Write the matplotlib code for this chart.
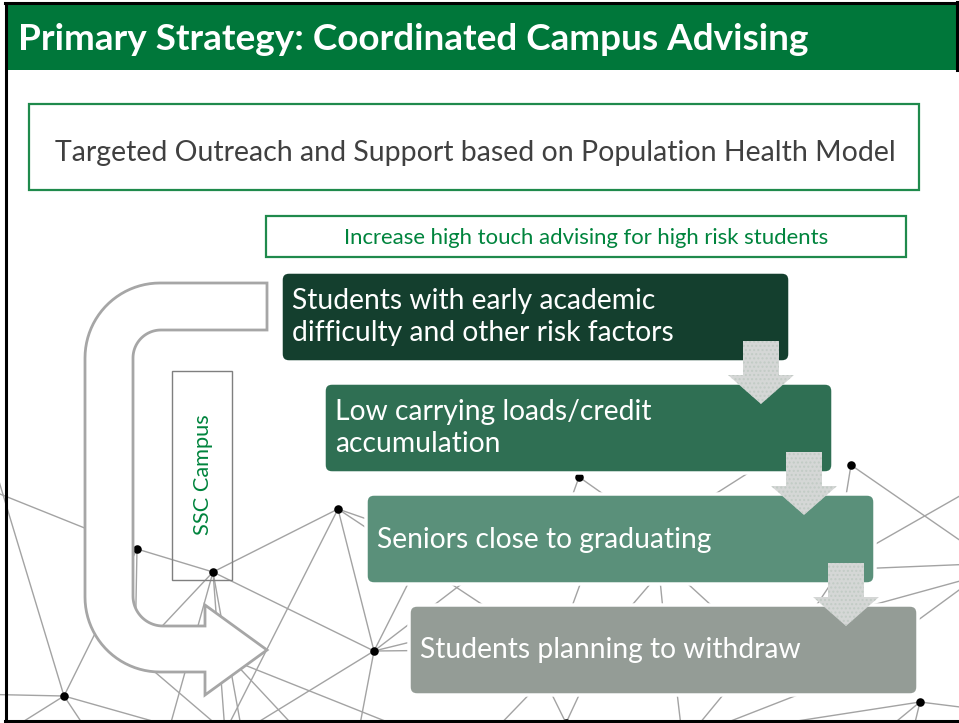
import numpy as np
import matplotlib
matplotlib.use("Agg")
import matplotlib.pyplot as plt
from matplotlib.patches import FancyBboxPatch, Rectangle, Polygon

W, H = 959, 723
FONT = ["Lato", "DejaVu Sans"]

# ---------------- text content ----------------
TITLE = "Primary Strategy: Coordinated Campus Advising"
SUBTITLE = "Targeted Outreach and Support based on Population Health Model"
BANNER = "Increase high touch advising for high risk students"
SIDE_LABEL = "SSC Campus"
STEP_LINES = [
    ["Students with early academic", "difficulty and other risk factors"],
    ["Low carrying loads/credit", "accumulation"],
    ["Seniors close to graduating"],
    ["Students planning to withdraw"],
]
STEP_COLORS = ["#143F2E", "#2F6F53", "#5A907A", "#949C96"]

# ---------------- layout (pixels) ----------------
STEP_X = [281, 324, 366, 409]
STEP_TOP = [272, 383, 494, 605]
STEP_W, STEP_H = 509, 90
STEP_BASELINES = [[309, 341], [420, 452], [548], [658]]

# ---------------- decorative network ----------------
NODES = {
    "a": (137, 549), "b": (213, 572), "c": (64, 696), "d": (338, 509),
    "e": (374, 651), "f": (579, 477), "g": (851, 465), "h": (920, 702),
    "i": (566, 723),
}
HIDDEN = {
    "L1": (-30, 482), "L2": (-30, 694), "L3": (-12, 445), "T1": (5, 733),
    "T2": (90, 735), "U1": (170, 726), "W1": (135, 655), "V1": (225, 732),
    "V2": (242, 732), "H1": (232, 660), "Q1": (302, 735), "Q2": (400, 727),
    "Q3": (358, 735), "K1": (470, 555), "K3": (430, 540), "K4": (519, 540),
    "M0": (480, 625), "M1": (470, 650), "M2": (551, 650),
    "K13": (600, 530), "M14": (545, 680), "K14": (705, 520), "M15": (585, 660),
    "K16": (655, 530), "M17": (668, 660), "K17": (640, 540), "M18": (760, 650),
    "K18": (860, 540), "M19": (780, 660), "K10": (640, 520), "K11": (560, 530),
    "K12": (690, 510), "N1": (800, 440),
    "R1": (1000, 568), "K7": (838, 545), "K8": (830, 570), "R2": (1000, 473),
    "R3": (1000, 563), "M7": (800, 625), "R4": (1000, 570), "M8": (880, 648),
    "R5": (1000, 560), "R6": (1000, 712), "B1": (700, 736), "B2": (880, 735),
    "B3": (912, 735), "M10": (572, 650), "B4": (490, 735), "M4": (530, 650),
    "M5": (600, 650), "M11": (672, 650), "B5": (682, 735), "M12": (760, 650),
    "B6": (690, 735), "M13": (900, 655), "B7": (700, 733),
}
EDGES = [
    ("L1", "a"), ("a", "b"), ("b", "e"), ("b", "d"), ("c", "a"), ("a", "W1"),
    ("b", "W1"), ("W1", "V1"), ("b", "V1"), ("b", "V2"), ("b", "U1"),
    ("c", "L2"), ("c", "L3"), ("c", "T1"), ("c", "T2"), ("c", "U1"),
    ("d", "V1"), ("d", "e"), ("d", "K1"), ("d", "M2"), ("e", "V2"),
    ("e", "Q3"), ("e", "K3"), ("e", "K4"), ("e", "M0"), ("e", "M1"),
    ("H1", "Q1"), ("H1", "Q2"),
    ("K13", "M14"), ("K14", "M15"), ("K16", "M17"), ("K17", "M18"),
    ("K18", "M19"), ("f", "K10"), ("f", "K11"), ("K12", "N1"),
    ("g", "R1"), ("g", "K7"), ("K8", "R2"), ("K8", "R3"), ("M7", "R4"),
    ("M8", "R5"), ("h", "R6"), ("h", "B1"), ("h", "B2"), ("h", "B3"),
    ("M10", "B4"), ("i", "M4"), ("i", "M5"), ("M11", "B5"), ("M12", "B6"),
    ("M13", "B7"),
]

fig = plt.figure(figsize=(W / 100, H / 100), dpi=100)
ax = fig.add_axes([0, 0, 1, 1])
ax.set_xlim(0, W)
ax.set_ylim(H, 0)
ax.axis("off")

ALL = {**NODES, **HIDDEN}
for p, q in EDGES:
    (x0, y0), (x1, y1) = ALL[p], ALL[q]
    ax.plot([x0, x1], [y0, y1], color="#A3A3A3", lw=1.0, zorder=1)
ax.scatter([v[0] for v in NODES.values()], [v[1] for v in NODES.values()],
           s=38, color="black", zorder=1.5, linewidths=0)


def arc(cx, cy, r, t0, t1, n=24):
    t = np.radians(np.linspace(t0, t1, n))
    return list(zip(cx + r * np.cos(t), cy + r * np.sin(t)))


# U-turn arrow
pts = [(267, 283)]
pts += arc(160, 358, 75, 270, 180)
pts += arc(160, 597, 75, 180, 90)
pts += [(205, 672), (205, 695), (267, 650), (205, 605), (205, 626)]
pts += arc(163, 596, 30, 90, 180)
pts += arc(161, 358, 28, 180, 270)
pts += [(267, 330)]
ax.add_patch(Polygon(pts, closed=True, facecolor="white", edgecolor="#A6A6A6",
                     lw=2.0, joinstyle="miter", zorder=2))

# SSC box
ax.add_patch(Rectangle((172, 371), 60, 209, facecolor="none", edgecolor="#7F7F7F",
                       lw=1.0, zorder=3))
side = ax.text(203, 475, SIDE_LABEL, rotation=90, ha="center", va="center",
               color="#00843D", fontsize=13, family=FONT, zorder=4)

# title bar & frame
ax.add_patch(Rectangle((7, 4), 950, 66, facecolor="#00773A", edgecolor="none", zorder=3))
ax.plot([6, 6], [2, 721], color="black", lw=2.2, zorder=6, solid_capstyle="butt")
ax.plot([5, W], [2.5, 2.5], color="black", lw=2.2, zorder=6)
ax.plot([5, W], [720.5, 720.5], color="black", lw=2.2, zorder=6)
ax.plot([957, 957], [2, 70], color="black", lw=2.2, zorder=6)
title = ax.text(18, 50, TITLE, color="white", fontweight="bold", fontsize=28,
                family=FONT, ha="left", va="baseline", zorder=5)

# boxes
ax.add_patch(Rectangle((29, 104), 890, 86, facecolor="white", edgecolor="#1F8A4C",
                       lw=1.6, zorder=3))
sub = ax.text(475, 161, SUBTITLE, color="#404040", fontsize=20, family=FONT,
              ha="center", va="baseline", zorder=4)
ax.add_patch(Rectangle((266, 216), 640, 41, facecolor="white", edgecolor="#1F8A4C",
                       lw=1.6, zorder=3))
ban = ax.text(586, 244, BANNER, color="#00843D", fontsize=13, family=FONT,
              ha="center", va="baseline", zorder=4)

step_texts = []
for k in range(len(STEP_LINES)):
    ax.add_patch(FancyBboxPatch((STEP_X[k], STEP_TOP[k]), STEP_W, STEP_H,
                                boxstyle="round,pad=0,rounding_size=8",
                                facecolor=STEP_COLORS[k], edgecolor="white",
                                lw=2.5, zorder=3))
    for line, base in zip(STEP_LINES[k], STEP_BASELINES[k]):
        t = ax.text(STEP_X[k] + 11, base, line, color="white", fontsize=20,
                    family=FONT, ha="left", va="baseline", zorder=4)
        step_texts.append(t)

# down arrows between steps
for k in range(len(STEP_LINES) - 1):
    cx = STEP_X[k] + STEP_W - 29
    y0 = STEP_TOP[k] + STEP_H - 21
    arr = [(cx - 18, y0), (cx + 18, y0), (cx + 18, y0 + 34), (cx + 33, y0 + 34),
           (cx, y0 + 63), (cx - 33, y0 + 34), (cx - 18, y0 + 34)]
    ax.add_patch(Polygon(arr, closed=True, facecolor="#D5D7D6", edgecolor="#C2CBC5",
                         lw=0, hatch="....", zorder=5))

# fit text widths to reference
r = fig.canvas.get_renderer()


def fit(t, target, use_height=False):
    bb = t.get_window_extent(r)
    w = bb.height if use_height else bb.width
    t.set_fontsize(t.get_fontsize() * target / w)


fit(title, 790)
fit(sub, 840)
fit(ban, 485)
fit(side, 120, use_height=True)
targets = [365, 379, 313, 167, 334, 381]
ratios = [tw / t.get_window_extent(r).width for t, tw in zip(step_texts, targets)]
fs = 20 * float(np.median(ratios))
for t in step_texts:
    t.set_fontsize(fs)

fig.savefig("out.png", dpi=100)
